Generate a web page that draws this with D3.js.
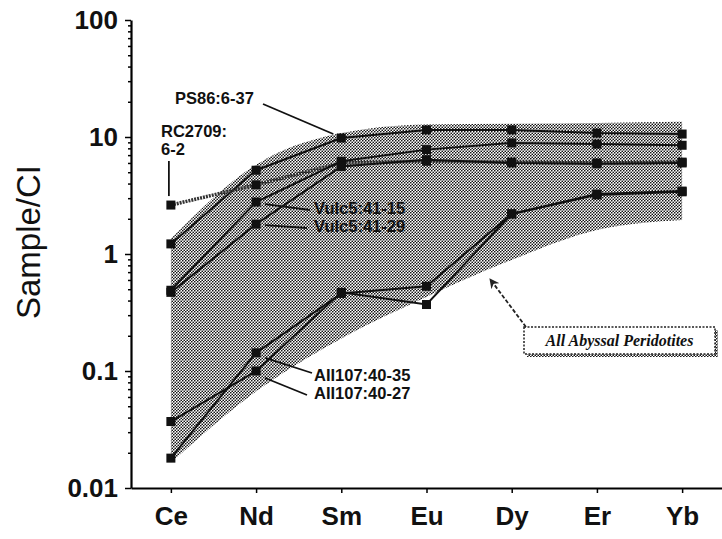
<!DOCTYPE html>
<html>
<head>
<meta charset="utf-8">
<script src="https://cdn.jsdelivr.net/npm/d3@7"></script>
<style>
  body { margin: 0; background: #fff; }
  svg { display: block; font-family: "Liberation Sans", Arial, sans-serif; }
</style>
</head>
<body>
<div id="chart"></div>
<script>
// Chondrite-normalized REE values
const elements = ["Ce", "Nd", "Sm", "Eu", "Dy", "Er", "Yb"];
const ps86_6_37   = [1.22, 5.2, 9.8, 11.5, 11.5, 10.8, 10.6];
const rc2709_6_2  = [2.62, 3.9, 6.0, 6.2, 6.1, 6.0, 6.1];
const vulc5_41_15 = [0.49, 2.78, 6.2, 7.8, 8.9, 8.7, 8.5];
const vulc5_41_29 = [0.47, 1.80, 5.6, 6.4, 6.0, 5.9, 6.0];
const all107_40_35 = [0.018, 0.143, 0.46, 0.53, 2.2, 3.2, 3.4];
const all107_40_27 = [0.037, 0.100, 0.47, 0.37, 2.2, 3.25, 3.45];

// Field of all abyssal peridotites (upper / lower envelope)
const fieldUpper = [1.35, 5.8, 10.8, 12.8, 13.0, 13.2, 13.5];
const fieldLower = [0.0165, 0.067, 0.19, 0.43, 0.89, 1.6, 1.95];

const yTicks = [0.01, 0.1, 1, 10, 100];
const yTickLabels = ["0.01", "0.1", "1", "10", "100"];

// Set the dimensions and margins of the graph
const margin = {top: 20, right: 0, bottom: 51, left: 131},
    width = 722 - margin.left - margin.right,
    height = 539 - margin.top - margin.bottom;

const root = d3.select("#chart")
  .append("svg")
    .attr("width", width + margin.left + margin.right)
    .attr("height", height + margin.top + margin.bottom);

// Stipple pattern for the shaded field
const defs = root.append("defs");
const pat = defs.append("pattern")
    .attr("id", "dots")
    .attr("width", 3)
    .attr("height", 3)
    .attr("patternUnits", "userSpaceOnUse");
pat.append("rect").attr("width", 3).attr("height", 3).attr("fill", "#fff");
pat.append("circle").attr("cx", 0.75).attr("cy", 0.75).attr("r", 0.85).attr("fill", "#111");
pat.append("circle").attr("cx", 2.25).attr("cy", 2.25).attr("r", 0.85).attr("fill", "#111");

defs.append("marker")
    .attr("id", "arrow")
    .attr("viewBox", "0 0 10 10")
    .attr("refX", 9).attr("refY", 5)
    .attr("markerWidth", 10).attr("markerHeight", 10)
    .attr("markerUnits", "userSpaceOnUse")
    .attr("orient", "auto")
  .append("path")
    .attr("d", "M0,0 L10,5 L0,10 L3,5 Z")
    .attr("fill", "#222");

const svg = root.append("g")
    .attr("transform", `translate(${margin.left},${margin.top})`);

// Scales
const x = d3.scalePoint()
    .domain(elements)
    .range([0, width])
    .padding(0.468);

const y = d3.scaleLog()
    .domain([0.01, 100])
    .range([height, 0]);

// Shaded field
const field = d3.area()
    .x(d => x(d.el))
    .y0(d => y(d.lo))
    .y1(d => y(d.hi))
    .curve(d3.curveMonotoneX);

svg.append("path")
    .datum(elements.map((el, i) => ({el: el, lo: fieldLower[i], hi: fieldUpper[i]})))
    .attr("d", field)
    .attr("fill", "url(#dots)");

// Axes
const minor = [];
[0.01, 0.1, 1, 10].forEach(d => {
    for (let k = 2; k <= 9; k++) minor.push(d * k);
});

svg.append("g")
    .attr("class", "y-minor")
    .call(d3.axisLeft(y).tickValues(minor).tickSize(3).tickFormat(""))
    .call(g => g.select(".domain").remove())
    .selectAll("line").attr("stroke", "#000").attr("stroke-width", 1.5);

svg.append("g")
    .attr("class", "y-axis")
    .call(d3.axisLeft(y)
        .tickValues(yTicks)
        .tickSize(6)
        .tickSizeOuter(0)
        .tickPadding(7)
        .tickFormat((d, i) => yTickLabels[i]))
    .call(g => g.select(".domain").attr("stroke-width", 2.2))
    .call(g => g.selectAll("line").attr("stroke-width", 1.5))
    .call(g => g.selectAll("text")
        .attr("font-size", 26)
        .attr("font-weight", "bold")
        .attr("fill", "#111"));

svg.append("g")
    .attr("class", "x-axis")
    .attr("transform", `translate(0,${height})`)
    .call(d3.axisBottom(x).tickSize(5).tickSizeOuter(0).tickPadding(14))
    .call(g => g.select(".domain").attr("stroke-width", 2.2))
    .call(g => g.selectAll("line").attr("stroke-width", 1.5))
    .call(g => g.selectAll("text")
        .attr("font-size", 26)
        .attr("font-weight", "bold")
        .attr("fill", "#111"));

// Y axis label
svg.append("text")
    .attr("transform", `translate(${40 - margin.left},${222}) rotate(-90)`)
    .attr("text-anchor", "middle")
    .attr("font-size", 33)
    .attr("fill", "#111")
    .text("Sample/CI");

// Sample lines
const series = [
    {name: "PS86:6-37", values: ps86_6_37},
    {name: "RC2709:6-2", values: rc2709_6_2, thick: true},
    {name: "Vulc5:41-15", values: vulc5_41_15},
    {name: "Vulc5:41-29", values: vulc5_41_29},
    {name: "AII107:40-35", values: all107_40_35},
    {name: "AII107:40-27", values: all107_40_27}
];

const line = d3.line()
    .x(d => x(d.el))
    .y(d => y(d.v));

series.forEach(s => {
    const pts = elements.map((el, i) => ({el: el, v: s.values[i]}));
    svg.append("path")
        .datum(pts)
        .attr("d", line)
        .attr("fill", "none")
        .attr("stroke", s.thick ? "#333" : "#111")
        .attr("stroke-width", s.thick ? 3.5 : 2)
        .attr("stroke-dasharray", s.thick ? "2,1" : null);

    svg.selectAll(null)
        .data(pts)
        .enter().append("rect")
        .attr("x", d => x(d.el) - 4.5)
        .attr("y", d => y(d.v) - 4.5)
        .attr("width", 9)
        .attr("height", 9)
        .attr("fill", "#111");
});

// Labels with pointer lines
const lab = svg.append("g")
    .attr("font-size", 16.5)
    .attr("font-weight", "bold")
    .attr("fill", "#111");
const ox = margin.left, oy = margin.top;

function pointer(x1, y1, x2, y2) {
    svg.append("line")
        .attr("x1", x1).attr("y1", y1)
        .attr("x2", x2).attr("y2", y2)
        .attr("stroke", "#111")
        .attr("stroke-width", 1.8);
}

lab.append("text").attr("x", 175 - ox).attr("y", 104 - oy).text("PS86:6-37");
pointer(263 - ox, 104 - oy, x("Sm") - 8, y(ps86_6_37[2]) - 4);

lab.append("text").attr("x", 161 - ox).attr("y", 137 - oy).text("RC2709:");
lab.append("text").attr("x", 161 - ox).attr("y", 155 - oy).text("6-2");
pointer(x("Ce") - 2, 161 - oy, x("Ce") - 2, y(rc2709_6_2[0]) - 9);

lab.append("text").attr("x", 314 - ox).attr("y", 214 - oy).text("Vulc5:41-15");
pointer(x("Nd") + 9, y(vulc5_41_15[1]) + 2, 310 - ox, 210 - oy);
lab.append("text").attr("x", 314 - ox).attr("y", 232 - oy).text("Vulc5:41-29");
pointer(x("Nd") + 9, y(vulc5_41_29[1]) + 1, 307 - ox, 228 - oy);

lab.append("text").attr("x", 314 - ox).attr("y", 381 - oy).text("AII107:40-35");
pointer(x("Nd") + 9, y(all107_40_35[1]) + 5, 312 - ox, 373 - oy);
lab.append("text").attr("x", 314 - ox).attr("y", 399 - oy).text("AII107:40-27");
pointer(x("Nd") + 9, y(all107_40_27[1]) + 7, 307 - ox, 395 - oy);

// Field annotation box with arrow
const bx = 524 - ox, by = 327 - oy, bw = 191, bh = 27;
svg.append("rect")
    .attr("x", bx + 3).attr("y", by + 3)
    .attr("width", bw).attr("height", bh)
    .attr("fill", "url(#dots)");
svg.append("rect")
    .attr("x", bx).attr("y", by)
    .attr("width", bw).attr("height", bh)
    .attr("fill", "#fff")
    .attr("stroke", "#222")
    .attr("stroke-width", 1.5)
    .attr("stroke-dasharray", "2,1.5");
svg.append("text")
    .attr("x", bx + bw / 2).attr("y", by + 19)
    .attr("text-anchor", "middle")
    .attr("font-family", "'Liberation Serif', 'Times New Roman', serif")
    .attr("font-style", "italic")
    .attr("font-weight", "bold")
    .attr("font-size", 16)
    .attr("fill", "#111")
    .text("All Abyssal Peridotites");
svg.append("line")
    .attr("x1", bx + 2).attr("y1", by)
    .attr("x2", 490 - ox).attr("y2", 279 - oy)
    .attr("stroke", "#222")
    .attr("stroke-width", 1.8)
    .attr("stroke-dasharray", "4,2")
    .attr("marker-end", "url(#arrow)");
</script>
</body>
</html>
